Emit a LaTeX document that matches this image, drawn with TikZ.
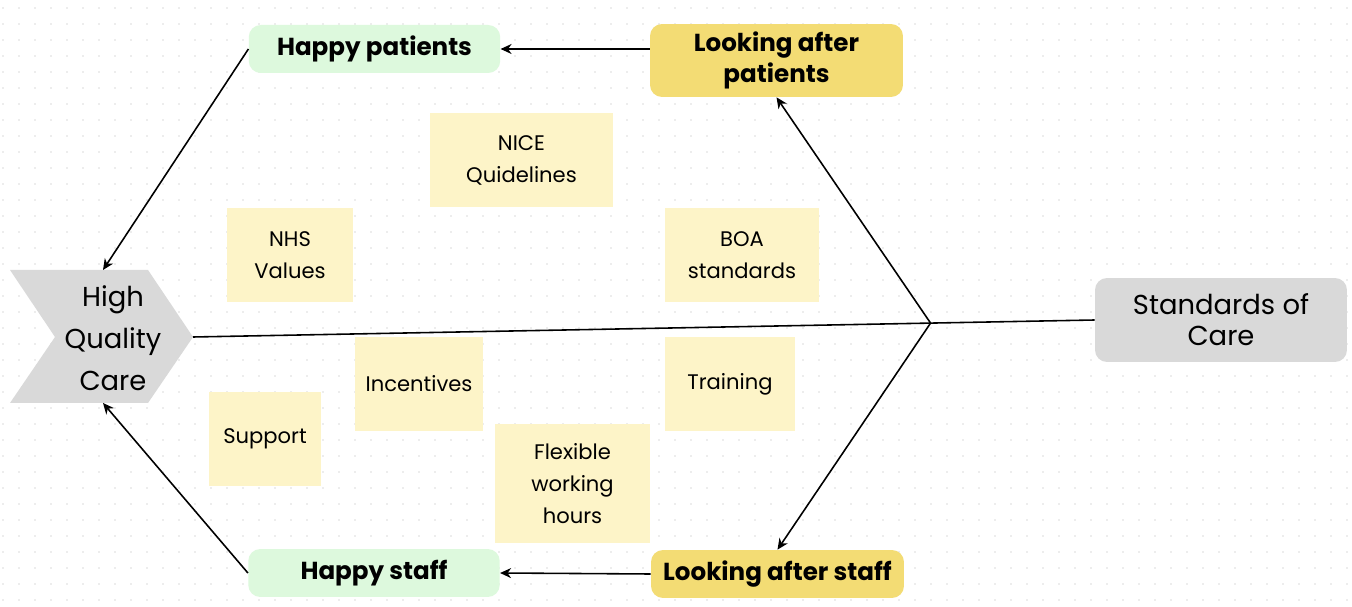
\documentclass[tikz,border=0pt]{standalone}
\usepackage{fontspec}
\setmainfont{Poppins}
\usepackage{tikz}
\usetikzlibrary{arrows.meta, positioning, calc}

\definecolor{greybox}{HTML}{D9D9D9}
\definecolor{yellowbox}{HTML}{F3DC74}
\definecolor{greenbox}{HTML}{DDF9DD}
\definecolor{notefill}{HTML}{FDF4C8}
\definecolor{dotgrey}{HTML}{DCDCDC}

\begin{document}
\begin{tikzpicture}[x=0.02cm, y=-0.02cm,
        note/.style={rectangle, fill=notefill, inner sep=0pt, align=center, minimum height=1.88cm, font=\fontsize{12}{18.2}\selectfont},
        happybox/.style={rectangle, rounded corners=0.24cm, fill=greenbox, inner sep=0pt, align=center, minimum width=5.03cm, minimum height=0.96cm, font=\fontsize{14}{17.2}\selectfont\bfseries},
        lookbox/.style={rectangle, rounded corners=0.24cm, fill=yellowbox, inner sep=0pt, align=center, minimum width=5.06cm, font=\fontsize{14}{17.2}\selectfont\bfseries},
        arrowline/.style={-{Stealth[length=2.2mm, width=2mm]}, line width=0.9pt}
    ]
        \useasboundingbox[fill=white] (0,0) rectangle (1352,607);
        % dotted grid
        \foreach \i in {0,...,84}
            \foreach \j in {0,...,37}
                \fill[dotgrey] (3+16*\i, 8+16*\j) circle (0.45pt);

        % chevron on the left
        \fill[greybox] (10,270) -- (148,270) -- (193,337) -- (148,403) -- (10,403) -- (55,337) -- cycle;
        \coordinate (caretip) at (193,337);
        \coordinate (caretop) at (103,270);
        \coordinate (carebot) at (103,403);
        \node[align=center, font=\fontsize{15.6}{24}\selectfont] (care) at (113,338) {High\\Quality\\Care};

        \node[rectangle, rounded corners=0.24cm, fill=greybox, minimum width=5.04cm, minimum height=1.68cm, align=center, font=\fontsize{15.6}{17.8}\selectfont] (standards) at (1221,320) {Standards of\\Care};

        \node[happybox] (happyp) at (374.5,49) {Happy patients};
        \node[happybox] (happys) at (374,573) {Happy staff};
        \node[lookbox, minimum height=1.46cm] (lookp) at (776.5,60.5) {Looking after\\patients};
        \node[lookbox, minimum height=0.96cm] (looks) at (777.5,574) {Looking after staff};

        \node[note, minimum width=3.66cm] (nice) at (521.5,160) {NICE\\Quidelines};
        \node[note, minimum width=2.52cm] (nhs) at (290,255) {NHS\\Values};
        \node[note, minimum width=3.08cm] (boa) at (742,255) {BOA\\standards};
        \node[note, minimum width=2.56cm] (incent) at (419,384) {Incentives};
        \node[note, minimum width=2.6cm] (train) at (730,384) {Training};
        \node[note, minimum width=2.24cm] (support) at (265,439) {Support};
        \node[note, minimum width=3.1cm, minimum height=2.38cm] (flex) at (572.5,483.5) {Flexible\\working\\hours};

        % spine and branches
        \draw[line width=0.9pt] (caretip) -- (standards.west);
        \coordinate (fork) at ($(caretip)!0.818!(standards.west)$);
        \draw[arrowline] (fork) -- (lookp.south);
        \draw[arrowline] (fork) -- (looks.north);
        \draw[arrowline] (lookp.west |- happyp.east) -- (happyp.east);
        \draw[arrowline] (looks.west) -- (happys.east);
        \draw[arrowline] (happyp.west) -- (caretop);
        \draw[arrowline] (happys.west) -- (carebot);
    \end{tikzpicture}
\end{document}
